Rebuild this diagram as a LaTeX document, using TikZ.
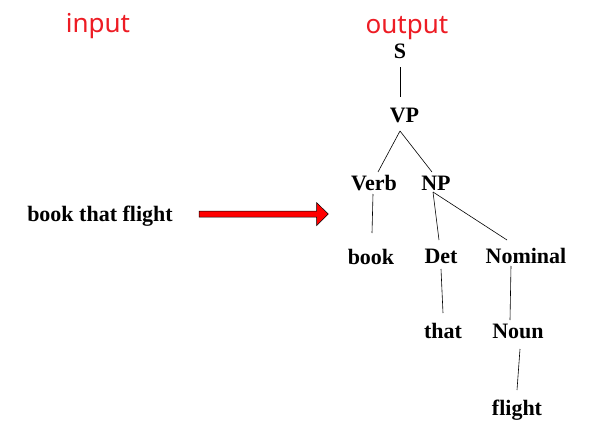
\documentclass[tikz,border=0pt]{standalone}
\usepackage{fontspec}
\setmainfont{Liberation Serif}
\newfontfamily\labelfont{Noto Sans}
\definecolor{redtxt}{RGB}{237,28,36}
\begin{document}
\begin{tikzpicture}[x=1pt,y=-1pt,
  tn/.style={anchor=base,inner sep=0pt,font=\fontsize{22}{22}\selectfont\bfseries},
  hd/.style={anchor=base,inner sep=0pt,text=redtxt,font=\labelfont\fontsize{26}{26}\selectfont},
  edge/.style={draw=black,line width=0.6pt}]
\useasboundingbox (0,0) rectangle (595,447);
\node[hd] (in) at (98,32) {input};
\node[hd] (out) at (407,33) {output};
\node[tn] (S) at (400,58) {S};
\node[tn] (VP) at (404.5,122) {VP};
\node[tn] (Verb) at (374,190) {Verb};
\node[tn] (NP) at (436,190) {NP};
\node[tn] (book) at (371,264) {book};
\node[tn] (Det) at (441,263) {Det};
\node[tn] (Nominal) at (526,263) {Nominal};
\node[tn] (that) at (443,338) {that};
\node[tn] (Noun) at (518,338) {Noun};
\node[tn] (flight) at (517,415) {flight};
\node[tn] (src) at (100,221) {book that flight};
% edges
\draw[edge] ([shift={(0,9)}]S.base) -- ([shift={(-4.5,-25)}]VP.base);
\draw[edge] ([shift={(-4.5,9)}]VP.base) -- ([shift={(4,-18)}]Verb.base);
\draw[edge] ([shift={(-4.5,9)}]VP.base) -- ([shift={(-4,-18)}]NP.base);
\draw[edge] ([shift={(-1,4)}]Verb.base) -- ([shift={(1,-31)}]book.base);
\draw[edge] ([shift={(-3,2)}]NP.base) -- ([shift={(-2,-23)}]Det.base);
\draw[edge] ([shift={(-3,2)}]NP.base) -- ([shift={(-19,-23)}]Nominal.base);
\draw[edge] ([shift={(0,6)}]Det.base) -- ([shift={(0,-25)}]that.base);
\draw[edge] ([shift={(-15,3)}]Nominal.base) -- ([shift={(-8,-18)}]Noun.base);
\draw[edge] ([shift={(2,11)}]Noun.base) -- ([shift={(0,-25)}]flight.base);
% block arrow
\coordinate (a0) at (199,211);
\coordinate (tip) at (328.3,214);
\draw[fill=red,draw=black,line width=0.5pt]
  (a0) -- (316.7,211) -- (316.7,202.7) -- (tip) -- (316.7,225.5) -- (316.7,217) -- (199,217) -- cycle;
\end{tikzpicture}
\end{document}
